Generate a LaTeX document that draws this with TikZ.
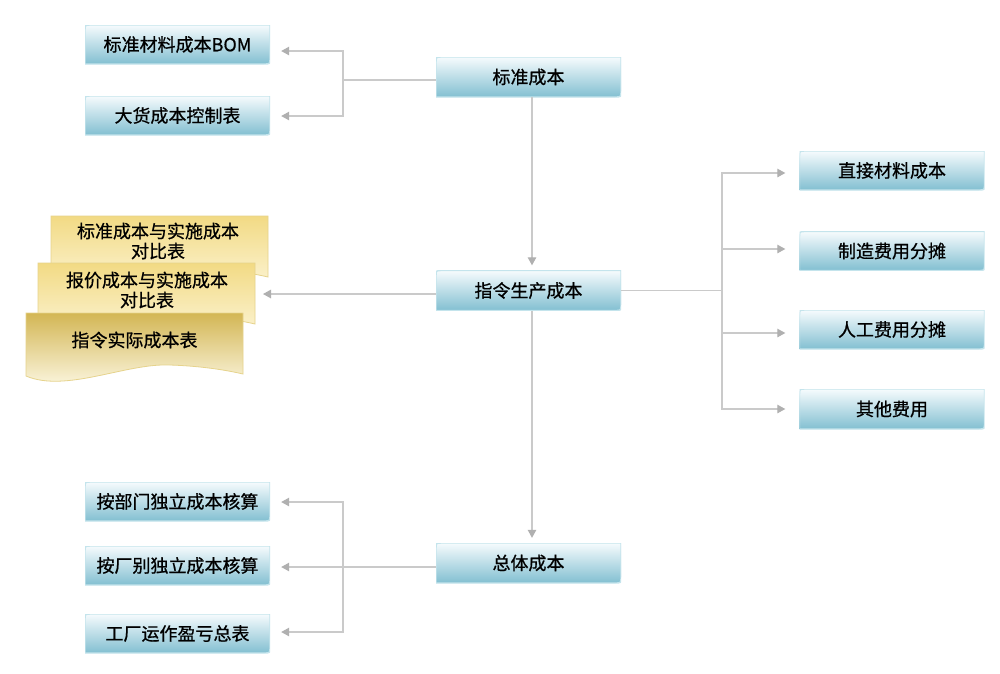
\documentclass[tikz,border=0pt]{standalone}
\usepackage{fontspec}
\setmainfont{Noto Sans CJK SC}[FakeBold=0.7]
\usetikzlibrary{arrows.meta}
\definecolor{bxtop}{HTML}{82BFD1}
\definecolor{bxmid}{HTML}{BEDFE8}
\definecolor{bxbot}{HTML}{F6FBFD}
\definecolor{bxline}{HTML}{C4E4EC}
\definecolor{lnc}{HTML}{CACACA}
\definecolor{arc}{HTML}{B0B0B0}
\definecolor{dAtop}{HTML}{F2DA84}
\definecolor{dAbot}{HTML}{FDF7DD}
\definecolor{dCtop}{HTML}{D3B654}
\definecolor{dCbot}{HTML}{FFFCEC}
\definecolor{dline}{HTML}{E6D38C}
\newcommand\ppb{path picture bounding box}
\newcommand\docshape[4]{%
  \begin{scope}[shift={(#1,#2)}]
    \shade[top color=#3, bottom color=#4, draw=dline, line width=0.8pt]
      (0,0) -- (217,0) -- (217,61)
      .. controls (200,57) and (175,53) .. (144,52)
      .. controls (100,50) and (40,80) .. (0,63) -- cycle;
  \end{scope}}
\tikzset{
  bx/.style={minimum width=185pt, minimum height=39pt, inner sep=0pt,
    font=\fontsize{18}{20}\selectfont,
    path picture={
      \shade[top color=bxbot, middle color=bxmid, bottom color=bxtop, draw=bxline, line width=1.4pt]
        (\ppb.south west) -- ([yshift=-6pt]\ppb.north west)
        .. controls (\ppb.north west) .. ([xshift=6pt]\ppb.north west)
        -- (\ppb.north east) -- ([yshift=6pt]\ppb.south east)
        .. controls (\ppb.south east) .. ([xshift=-6pt]\ppb.south east) -- cycle;
    }},
  doctxt/.style={align=center, inner sep=0pt, font=\fontsize{18}{20}\selectfont},
  conn/.style={draw=lnc, line width=1.2pt},
  arr/.style={conn, -{Triangle[length=8pt,width=8.5pt,color=arc]}},
}
\begin{document}
\begin{tikzpicture}[x=1pt,y=-1pt]
\fill[white] (0,0) rectangle (1000,673);
\useasboundingbox (0,0) rectangle (1000,673);

% boxes
\node[bx] (bom) at (177.5,44.5) {标准材料成本BOM};
\node[bx] (dh)  at (177.5,115.5) {大货成本控制表};
\node[bx, minimum height=40pt] (std) at (528.5,77) {标准成本};
\node[bx, minimum height=40pt] (cmd) at (528.5,290.5) {指令生产成本};
\node[bx, minimum height=40pt] (tot) at (528.5,563) {总体成本};
\node[bx] (zj) at (892,170.5) {直接材料成本};
\node[bx] (zz) at (892,251) {制造费用分摊};
\node[bx] (rg) at (892,329.5) {人工费用分摊};
\node[bx, minimum height=40pt] (qt) at (892,409) {其他费用};
\node[bx] (bm) at (177.5,501.5) {按部门独立成本核算};
\node[bx] (cb) at (177.5,565.5) {按厂别独立成本核算};
\node[bx] (gc) at (177.5,633.5) {工厂运作盈亏总表};

% documents
\docshape{51}{216}{dAtop}{dAbot}
\node[doctxt] (d1) at (158,241) {标准成本与实施成本\\对比表};
\docshape{38}{263}{dAtop}{dAbot}
\node[doctxt] (d2) at (147,290) {报价成本与实施成本\\对比表};
\docshape{26}{313}{dCtop}{dCbot}
\node[doctxt] (d3) at (134.5,340) {指令实际成本表};

% junctions
\coordinate (jt) at (343,80);
\coordinate (jr) at (722,290.5);
\coordinate (jb) at (343,567);
\coordinate (dtip) at (263,294);

% top group
\draw[conn] ([yshift=-3pt]std.west) -- (jt);
\draw[arr, shorten >=11pt] (jt) |- ([yshift=-6.5pt]bom.east);
\draw[arr, shorten >=11pt] (jt) |- ([yshift=-0.5pt]dh.east);

% vertical spine
\draw[arr, shorten >=5pt] ([xshift=3.5pt]std.south) -- ([xshift=3.5pt]cmd.north);
\draw[arr, shorten >=5pt] ([xshift=3.5pt]cmd.south) -- ([xshift=3.5pt]tot.north);

% right group
\draw[conn] (cmd.east) -- (jr);
\draw[arr, shorten >=14pt] (jr) |- ([yshift=-2.5pt]zj.west);
\draw[arr, shorten >=14pt] (jr) |- ([yshift=2pt]zz.west);
\draw[arr, shorten >=14pt] (jr) |- ([yshift=-3.5pt]rg.west);
\draw[arr, shorten >=14pt] (jr) |- (qt.west);

% documents arrow
\draw[arr] ([yshift=-3.5pt]cmd.west) -- (dtip);

% bottom group
\draw[arr, shorten >=11pt] ([yshift=-4pt]tot.west) -- ([yshift=-1.5pt]cb.east);
\draw[arr, shorten >=11pt] (jb) |- ([yshift=-0.5pt]bm.east);
\draw[arr, shorten >=11pt] (jb) |- ([yshift=1.5pt]gc.east);
\end{tikzpicture}
\end{document}
